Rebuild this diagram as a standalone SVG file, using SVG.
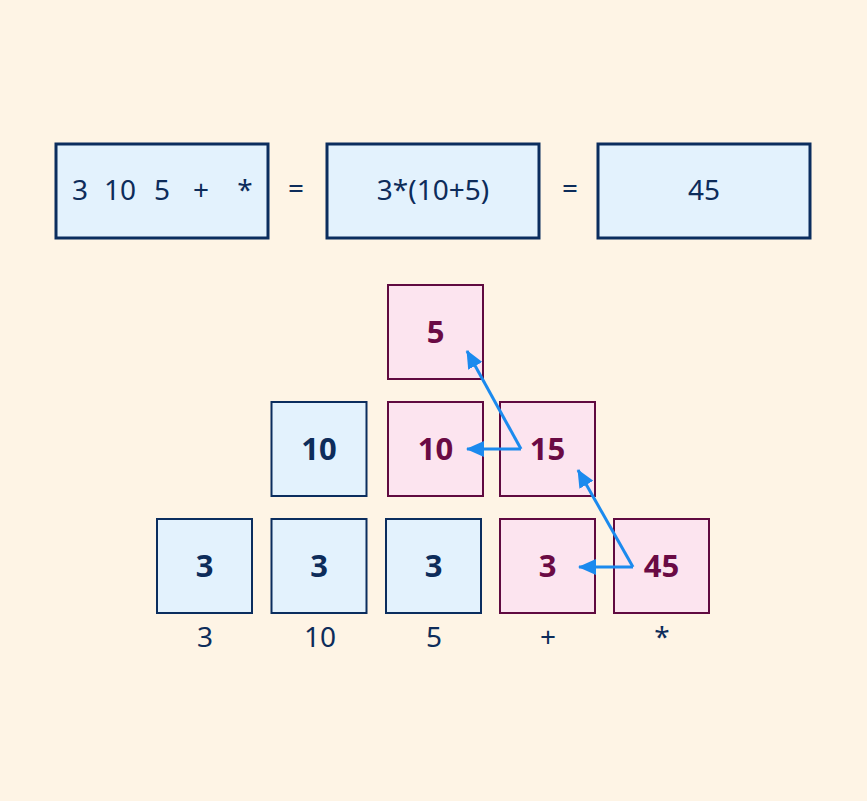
<svg xmlns="http://www.w3.org/2000/svg" width="867" height="801" viewBox="0 0 867 801">
<style>
.bg{fill:#FEF4E5}
.eq{fill:#E3F2FD;stroke:#0B2D5E;stroke-width:3}
.b{fill:#E3F2FD;stroke:#0B2D5E;stroke-width:2}
.p{fill:#FCE4EF;stroke:#600A40;stroke-width:2}
.t{font-family:"Noto Sans","Open Sans",sans-serif;font-size:28px;fill:#0D2C5A;text-anchor:middle}
.nb{font-family:"Noto Sans","Open Sans",sans-serif;font-size:31px;font-weight:bold;fill:#0D2C5A;text-anchor:middle}
.np{font-family:"Noto Sans","Open Sans",sans-serif;font-size:31px;font-weight:bold;fill:#6A0A44;text-anchor:middle}
.ar{fill:none;stroke:#1B8AEE;stroke-width:3;marker-end:url(#ah)}
</style>
<defs>
<marker id="ah" markerUnits="userSpaceOnUse" markerWidth="18" markerHeight="16" refX="17" refY="8" orient="auto">
<path d="M0,0 L18,8 L0,16 z" fill="#1B8AEE"/>
</marker>
</defs>
<rect class="bg" x="0" y="0" width="867" height="801"/>
<g id="expr-postfix">
<rect class="eq" x="56" y="144" width="212" height="94"/>
<text class="t" x="80" y="200">3</text>
<text class="t" x="120" y="200">10</text>
<text class="t" x="162" y="200">5</text>
<text class="t" x="201" y="200">+</text>
<text class="t" x="245" y="200">*</text>
</g>
<text class="t" x="296" y="198">=</text>
<g id="expr-infix">
<rect class="eq" x="327" y="144" width="212" height="94"/>
<text class="t" x="433" y="200">3*(10+5)</text>
</g>
<text class="t" x="570" y="198">=</text>
<g id="expr-result">
<rect class="eq" x="598" y="144" width="212" height="94"/>
<text class="t" x="704" y="200">45</text>
</g>
<g id="s1-3"><rect class="b" x="157" y="519" width="95" height="94"/><text class="nb" x="204.5" y="577">3</text></g>
<g id="s2-3"><rect class="b" x="271.5" y="519" width="95" height="94"/><text class="nb" x="319" y="577">3</text></g>
<g id="s2-10"><rect class="b" x="271.5" y="402" width="95" height="94"/><text class="nb" x="319" y="460">10</text></g>
<g id="s3-3"><rect class="b" x="386" y="519" width="95" height="94"/><text class="nb" x="433.5" y="577">3</text></g>
<g id="s3-10"><rect class="p" x="388" y="402" width="95" height="94"/><text class="np" x="435.5" y="460">10</text></g>
<g id="s3-5"><rect class="p" x="388" y="285" width="95" height="94"/><text class="np" x="435.5" y="343">5</text></g>
<g id="s4-3"><rect class="p" x="500" y="519" width="95" height="94"/><text class="np" x="547.5" y="577">3</text></g>
<g id="s4-15"><rect class="p" x="500" y="402" width="95" height="94"/><text class="np" x="547.5" y="460">15</text></g>
<g id="s5-45"><rect class="p" x="614" y="519" width="95" height="94"/><text class="np" x="661.5" y="577">45</text></g>
<g id="labels">
<text class="t" x="205" y="647">3</text>
<text class="t" x="320" y="647">10</text>
<text class="t" x="434" y="647">5</text>
<text class="t" x="548" y="647">+</text>
<text class="t" x="662" y="647">*</text>
</g>
<g id="connectors">
<path class="ar" d="M521,449 L467,449"/>
<path class="ar" d="M521,449 L467,351"/>
<path class="ar" d="M633,567 L579,567"/>
<path class="ar" d="M633,567 L578,470"/>
</g>
</svg>
